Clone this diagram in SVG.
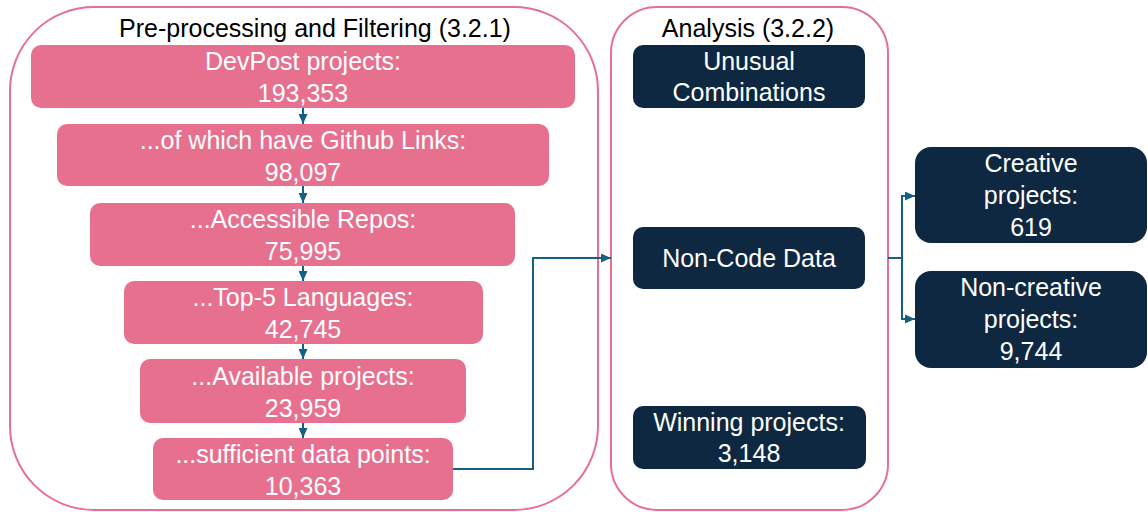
<svg xmlns="http://www.w3.org/2000/svg" width="1148" height="512" viewBox="0 0 1148 512">
  <style>
    .container { fill: #FFFFFF; stroke: #E8708F; stroke-width: 2; }
    .pink { fill: #E8708F; }
    .dark { fill: #0E2841; }
    .title { font-family: "Liberation Sans", Arial, sans-serif; font-size: 25px; fill: #000000; text-anchor: middle; }
    .label { font-family: "Liberation Sans", Arial, sans-serif; font-size: 25px; fill: #FFFFFF; text-anchor: middle; }
    .conn { fill: none; stroke: #156082; stroke-width: 2; }
  </style>
  <defs>
    <marker id="arrow" markerUnits="userSpaceOnUse" markerWidth="10" markerHeight="9" viewBox="0 0 10 9" refX="10" refY="4.5" orient="auto">
      <path d="M0,0 L10,4.5 L0,9 z" fill="#156082"/>
    </marker>
  </defs>
  <rect width="1148" height="512" fill="#FFFFFF"/>

  <g id="preprocessing">
    <rect class="container" x="10" y="7" width="588" height="503" rx="84" ry="84"/>
    <text class="title" x="315" y="37">Pre-processing and Filtering (3.2.1)</text>
  </g>
  <g id="analysis">
    <rect class="container" x="611" y="7" width="277" height="503" rx="46" ry="46"/>
    <text class="title" x="748" y="37">Analysis (3.2.2)</text>
  </g>

  <g id="devpost">
    <rect class="pink" x="31" y="45" width="544" height="63" rx="10"/>
    <text class="label" x="303" y="70">DevPost projects:</text>
    <text class="label" x="303" y="102">193,353</text>
  </g>
  <g id="github">
    <rect class="pink" x="57" y="124" width="492" height="62" rx="10"/>
    <text class="label" x="303" y="149">...of which have Github Links:</text>
    <text class="label" x="303" y="181">98,097</text>
  </g>
  <g id="accessible">
    <rect class="pink" x="90" y="203" width="425" height="63" rx="10"/>
    <text class="label" x="303" y="228">...Accessible Repos:</text>
    <text class="label" x="303" y="260">75,995</text>
  </g>
  <g id="top5">
    <rect class="pink" x="124" y="281" width="359" height="63" rx="10"/>
    <text class="label" x="303" y="306">...Top-5 Languages:</text>
    <text class="label" x="303" y="338">42,745</text>
  </g>
  <g id="available">
    <rect class="pink" x="140" y="359" width="326" height="64" rx="10"/>
    <text class="label" x="303" y="385">...Available projects:</text>
    <text class="label" x="303" y="417">23,959</text>
  </g>
  <g id="sufficient">
    <rect class="pink" x="153" y="438" width="300" height="62" rx="10"/>
    <text class="label" x="303" y="463">...sufficient data points:</text>
    <text class="label" x="303" y="495">10,363</text>
  </g>

  <g id="unusual">
    <rect class="dark" x="633" y="45" width="232" height="63" rx="10"/>
    <text class="label" x="749" y="70">Unusual</text>
    <text class="label" x="749" y="101">Combinations</text>
  </g>
  <g id="noncode">
    <rect class="dark" x="633" y="227" width="232" height="62" rx="10"/>
    <text class="label" x="749" y="267">Non-Code Data</text>
  </g>
  <g id="winning">
    <rect class="dark" x="633" y="406" width="233" height="63" rx="10"/>
    <text class="label" x="749" y="431">Winning projects:</text>
    <text class="label" x="749" y="462">3,148</text>
  </g>
  <g id="creative">
    <rect class="dark" x="915" y="147" width="232" height="96" rx="16"/>
    <text class="label" x="1031" y="172">Creative</text>
    <text class="label" x="1031" y="204">projects:</text>
    <text class="label" x="1031" y="236">619</text>
  </g>
  <g id="noncreative">
    <rect class="dark" x="915" y="271" width="232" height="97" rx="16"/>
    <text class="label" x="1031" y="296">Non-creative</text>
    <text class="label" x="1031" y="328">projects:</text>
    <text class="label" x="1031" y="360">9,744</text>
  </g>

  <g id="connectors">
    <path class="conn" d="M303,108 L303,124" marker-end="url(#arrow)"/>
    <path class="conn" d="M303,186 L303,203" marker-end="url(#arrow)"/>
    <path class="conn" d="M303,266 L303,281" marker-end="url(#arrow)"/>
    <path class="conn" d="M303,344 L303,359" marker-end="url(#arrow)"/>
    <path class="conn" d="M303,423 L303,438" marker-end="url(#arrow)"/>
    <path class="conn" d="M453,469 L533,469 L533,258 L611,258" marker-end="url(#arrow)"/>
    <path class="conn" d="M888,258 L902,258 L902,196 L915,196" marker-end="url(#arrow)"/>
    <path class="conn" d="M902,258 L902,319 L915,319" marker-end="url(#arrow)"/>
  </g>
</svg>
